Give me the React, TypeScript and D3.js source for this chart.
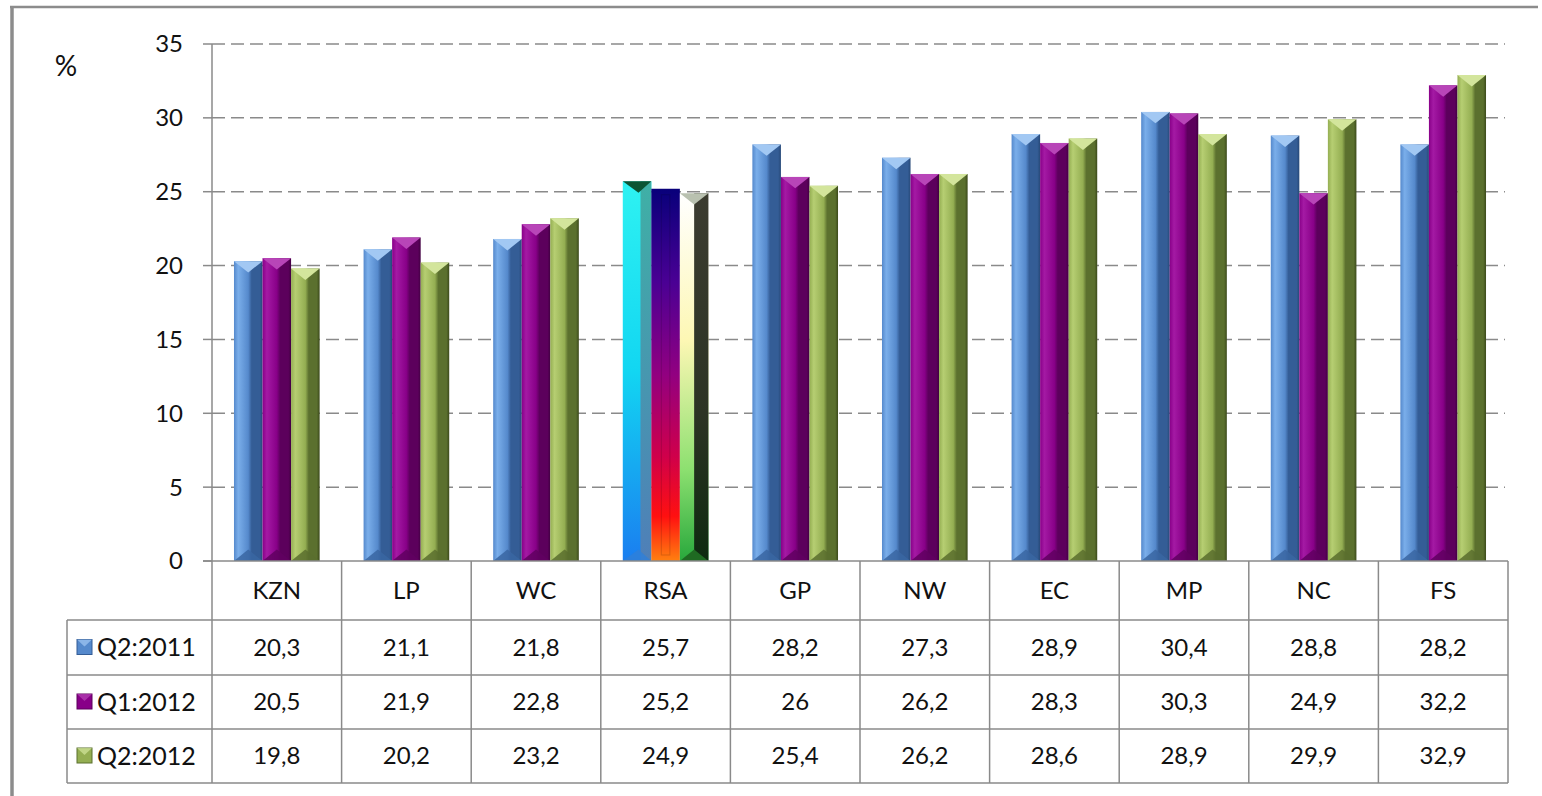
import * as d3 from "d3";
import React from "react";

// chart values
const categories = ["KZN", "LP", "WC", "RSA", "GP", "NW", "EC", "MP", "NC", "FS"];
const seriesNames = ["Q2:2011", "Q1:2012", "Q2:2012"];
const q2_2011 = [20.3, 21.1, 21.8, 25.7, 28.2, 27.3, 28.9, 30.4, 28.8, 28.2];
const q1_2012 = [20.5, 21.9, 22.8, 25.2, 26, 26.2, 28.3, 30.3, 24.9, 32.2];
const q2_2012 = [19.8, 20.2, 23.2, 24.9, 25.4, 26.2, 28.6, 28.9, 29.9, 32.9];
const yTicks = [0, 5, 10, 15, 20, 25, 30, 35];

const seriesValues = [q2_2011, q1_2012, q2_2012];

// bevel colours per series: light edge, main, dark edge, top facet, bottom facet
const palette = [
  { light: "#7aaeea", main: "#5589cc", dark: "#345d96", deep: "#274978", top: "#a2c8f3", bottom: "#3a66a2" },
  { light: "#a41aa4", main: "#880088", dark: "#5c005c", deep: "#420042", top: "#b845b8", bottom: "#600060" },
  { light: "#b6ce72", main: "#94ae52", dark: "#5b702e", deep: "#3c4a1b", top: "#d3e59c", bottom: "#5a6e2e" },
];

const FONT = "Lato, 'Open Sans', sans-serif";

const W = 1542;
const H = 796;
const plotLeft = 212;
const plotRight = 1508;
const plotTop = 44;
const plotBottom = 561;
const rowLines = [620, 675, 729, 783];
const tableLeft = 67;

const fmt = (v: number) => String(v).replace(".", ",");

const x = d3.scaleBand<string>().domain(categories).range([plotLeft, plotRight]).padding(0);
const y = d3.scaleLinear().domain([0, 35]).range([plotBottom, plotTop]);
const x1 = d3
  .scaleBand<number>()
  .domain([0, 1, 2])
  .range([0, x.bandwidth()])
  .paddingInner(0)
  .paddingOuter(0.77);

function Bar({ bx, by, w, s, cat }: { bx: number; by: number; w: number; s: number; cat: string }) {
  const bot = plotBottom;
  const h = bot - by;
  const tri = Math.min(w * 0.4, h / 2);
  if (cat === "RSA") {
    // the highlighted national bars with their own gradients
    if (s === 0) {
      return (
        <g>
          <rect x={bx} y={by} width={w} height={h} fill="url(#rsa0)" />
          <rect x={bx + w * 0.62} y={by} width={w * 0.38} height={h} fill="url(#rsa0r)" />
          <polygon points={`${bx},${by} ${bx + w},${by} ${bx + w * 0.55},${by + tri}`} fill="#0c5434" />
          <polygon points={`${bx},${bot} ${bx + w},${bot} ${bx + w * 0.55},${bot - tri}`} fill="#2f7fd8" opacity={0.8} />
        </g>
      );
    }
    if (s === 1) {
      return (
        <g>
          <rect x={bx} y={by} width={w} height={h} fill="url(#rsa1)" />
          <rect x={bx + w * 0.35} y={by + 6} width={w * 0.3} height={h - 12} fill="none" stroke="#000" strokeOpacity={0.15} />
        </g>
      );
    }
    return (
      <g>
        <rect x={bx} y={by} width={w} height={h} fill="url(#rsa2)" />
        <rect x={bx + w * 0.5} y={by} width={w * 0.5} height={h} fill="url(#rsa2r)" />
        <polygon points={`${bx},${by} ${bx + w},${by} ${bx + w * 0.5},${by + tri}`} fill="#b9c1b0" />
        <polygon points={`${bx},${bot} ${bx + w},${bot} ${bx + w * 0.5},${bot - tri}`} fill="#1f6a22" />
      </g>
    );
  }
  const c = palette[s];
  return (
    <g>
      <rect x={bx} y={by} width={w} height={h} fill={`url(#body${s})`} />
      <polygon points={`${bx},${by} ${bx + w},${by} ${bx + w / 2},${by + tri}`} fill={c.top} />
      <polygon points={`${bx},${bot} ${bx + w},${bot} ${bx + w / 2},${bot - tri}`} fill={c.bottom} opacity={0.85} />
    </g>
  );
}

export default function App() {
  const bw = x1.bandwidth();

  return (
    <svg
      width={W}
      height={H}
      style={{ position: "fixed", left: 0, top: 0, background: "#fff" }}
      fontFamily={FONT}
    >
      <defs>
        {palette.map((c, i) => (
          <linearGradient key={i} id={`body${i}`} x1="0" x2="1" y1="0" y2="0">
            <stop offset="0" stopColor={c.main} />
            <stop offset="0.15" stopColor={c.light} />
            <stop offset="0.5" stopColor={c.main} />
            <stop offset="0.62" stopColor={c.dark} />
            <stop offset="0.9" stopColor={c.dark} />
            <stop offset="1" stopColor={c.deep} />
          </linearGradient>
        ))}
        <linearGradient id="rsa0" x1="0" x2="0" y1="0" y2="1">
          <stop offset="0" stopColor="#2ef2f2" />
          <stop offset="0.5" stopColor="#12d6f2" />
          <stop offset="1" stopColor="#1a7ef0" />
        </linearGradient>
        <linearGradient id="rsa0r" x1="0" x2="0" y1="0" y2="1">
          <stop offset="0" stopColor="#3fb0a6" />
          <stop offset="1" stopColor="#4f7fb8" />
        </linearGradient>
        <linearGradient id="rsa1" x1="0" x2="0" y1="0" y2="1">
          <stop offset="0" stopColor="#08007a" />
          <stop offset="0.25" stopColor="#4a0094" />
          <stop offset="0.5" stopColor="#920080" />
          <stop offset="0.72" stopColor="#d0004a" />
          <stop offset="0.88" stopColor="#ff1010" />
          <stop offset="1" stopColor="#ff8010" />
        </linearGradient>
        <linearGradient id="rsa2" x1="0" x2="0" y1="0" y2="1">
          <stop offset="0" stopColor="#ffffff" />
          <stop offset="0.4" stopColor="#fdf7b4" />
          <stop offset="0.75" stopColor="#8de070" />
          <stop offset="1" stopColor="#28a83c" />
        </linearGradient>
        <linearGradient id="rsa2r" x1="0" x2="0" y1="0" y2="1">
          <stop offset="0" stopColor="#3c3c30" />
          <stop offset="0.6" stopColor="#2c3424" />
          <stop offset="1" stopColor="#0e2a10" />
        </linearGradient>
      </defs>

      {/* outer frame */}
      <line x1={10} x2={1538} y1={7} y2={7} stroke="#8c8c8c" strokeWidth={2.5} />
      <line x1={12} x2={12} y1={6} y2={H} stroke="#8c8c8c" strokeWidth={3.5} />

      {/* gridlines */}
      {yTicks
        .filter((t) => t > 0)
        .map((t) => (
          <line
            key={t}
            x1={plotLeft}
            x2={plotRight - 3}
            y1={y(t)}
            y2={y(t)}
            stroke="#8a8a8a"
            strokeWidth={1.5}
            strokeDasharray="13 6"
          />
        ))}

      {/* y axis */}
      <line x1={plotLeft} x2={plotLeft} y1={plotTop} y2={rowLines[3]} stroke="#8a8a8a" strokeWidth={1.5} />
      {yTicks.map((t) => (
        <g key={t}>
          <line x1={203} x2={plotLeft} y1={y(t)} y2={y(t)} stroke="#8a8a8a" strokeWidth={1.5} />
          <text x={183} y={y(t)} dy="0.35em" textAnchor="end" fontSize={24} fill="#111">
            {t}
          </text>
        </g>
      ))}
      <text x={66} y={66} dy="0.35em" textAnchor="middle" fontSize={28} fill="#111">
        %
      </text>

      {/* bars */}
      {categories.map((cat, ci) => (
        <g key={cat}>
          {seriesValues.map((vals, s) => (
            <Bar key={s} bx={(x(cat) as number) + (x1(s) as number)} by={y(vals[ci])} w={bw} s={s} cat={cat} />
          ))}
        </g>
      ))}

      {/* data table */}
      <line x1={203} x2={plotRight} y1={plotBottom} y2={plotBottom} stroke="#8a8a8a" strokeWidth={1.5} />
      {rowLines.map((ly) => (
        <line key={ly} x1={tableLeft} x2={plotRight} y1={ly} y2={ly} stroke="#8a8a8a" strokeWidth={1.5} />
      ))}
      <line x1={tableLeft} x2={tableLeft} y1={rowLines[0]} y2={rowLines[3]} stroke="#8a8a8a" strokeWidth={1.5} />
      {categories.map((cat) => (
        <line
          key={cat}
          x1={(x(cat) as number) + x.bandwidth()}
          x2={(x(cat) as number) + x.bandwidth()}
          y1={plotBottom}
          y2={rowLines[3]}
          stroke="#8a8a8a"
          strokeWidth={1.5}
        />
      ))}
      {categories.map((cat) => (
        <text
          key={cat}
          x={(x(cat) as number) + x.bandwidth() / 2}
          y={(plotBottom + rowLines[0]) / 2}
          dy="0.35em"
          textAnchor="middle"
          fontSize={24}
          fill="#111"
        >
          {cat}
        </text>
      ))}
      {seriesValues.map((vals, s) => {
        const cy = (rowLines[s] + rowLines[s + 1]) / 2;
        const c = palette[s];
        return (
          <g key={s}>
            <rect x={77} y={cy - 8} width={15} height={15} fill={c.main} stroke={c.dark} strokeWidth={1} />
            <polygon points={`${77},${cy - 8} ${92},${cy - 8} ${84.5},${cy - 1}`} fill={c.top} opacity={0.7} />
            <text x={97} y={cy} dy="0.35em" fontSize={25} fill="#111">
              {seriesNames[s]}
            </text>
            {vals.map((v, ci) => (
              <text
                key={ci}
                x={(x(categories[ci]) as number) + x.bandwidth() / 2}
                y={cy}
                dy="0.35em"
                textAnchor="middle"
                fontSize={24}
                fill="#111"
              >
                {fmt(v)}
              </text>
            ))}
          </g>
        );
      })}
    </svg>
  );
}
